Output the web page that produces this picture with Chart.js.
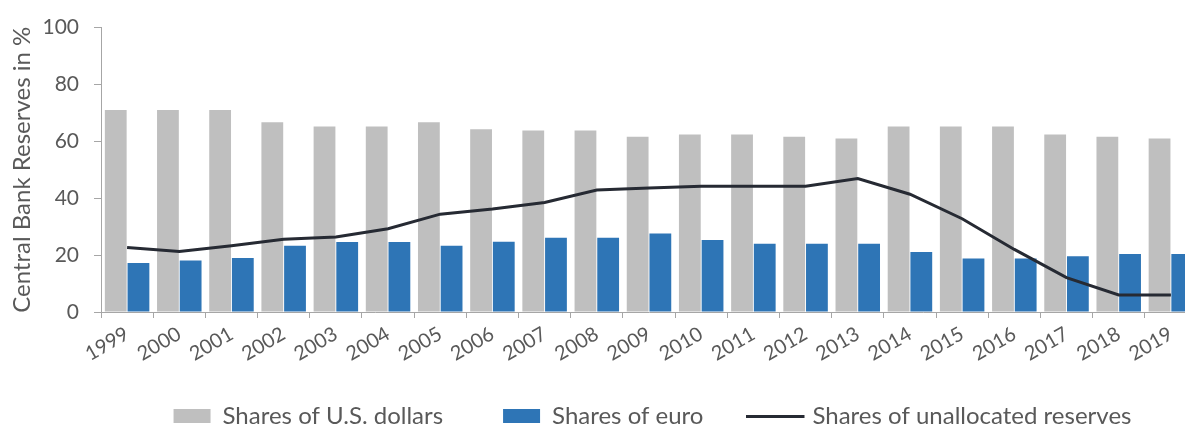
<!DOCTYPE html>
<html>
<head>
<meta charset="utf-8">
<script src="https://cdn.jsdelivr.net/npm/chart.js@4/dist/chart.umd.min.js"></script>
<style>
  html, body { margin: 0; padding: 0; background: #ffffff; overflow: hidden; }
  #wrap { width: 1185px; height: 428px; position: relative; overflow: hidden; }
  #chart { display: block; }
</style>
</head>
<body>
<div id="wrap"><canvas id="chart" width="1197" height="438" style="width:1197px;height:438px"></canvas></div>
<script>
const years = ['1999','2000','2001','2002','2003','2004','2005','2006','2007','2008','2009','2010','2011','2012','2013','2014','2015','2016','2017','2018','2019'];
const usdShares = [71.0, 71.0, 71.0, 66.7, 65.2, 65.2, 66.7, 64.3, 63.8, 63.8, 61.6, 62.4, 62.4, 61.6, 61.0, 65.2, 65.2, 65.2, 62.4, 61.6, 61.0];
const euroShares = [17.2, 18.1, 19.0, 23.3, 24.6, 24.6, 23.3, 24.7, 26.1, 26.1, 27.6, 25.3, 24.0, 24.0, 24.0, 21.1, 18.8, 18.8, 19.6, 20.4, 20.4];
const unallocatedShares = [22.7, 21.3, 23.3, 25.6, 26.4, 29.3, 34.4, 36.2, 38.5, 42.9, 43.6, 44.2, 44.2, 44.2, 46.9, 41.4, 32.8, 22.0, 12.1, 6.0, 6.0];
const yTickValues = [0, 20, 40, 60, 80, 100];
const seriesNames = ['Shares of U.S. dollars', 'Shares of euro', 'Shares of unallocated reserves'];

const FONT = 'Lato, "Liberation Sans", Arial, sans-serif';
const TEXT = '#595959';
const AXIS = '#a6a6a6';
const LEGEND_GAP = 60;      // horizontal spacing between legend items
const LEGEND_TRIM = 20;     // vertical space given back from the legend box

// wide line swatch for the legend (line sits left of the swatch centre)
const lineSwatch = document.createElement('canvas');
lineSwatch.width = 71; lineSwatch.height = 3;
(function(){ const c = lineSwatch.getContext('2d'); c.fillStyle = '#262a33'; c.fillRect(0, 0, 58, 3); })();

const legendTweak = {
  id: 'legendTweak',
  beforeUpdate(chart) {
    const lg = chart.legend;
    if (lg && !lg._tweaked) {
      const origFit = lg.fit.bind(lg);
      lg.fit = function () { origFit(); this.height -= LEGEND_TRIM; };
      lg._tweaked = true;
    }
  },
  afterLayout(chart) {
    const lg = chart.legend;
    if (lg) { lg.top -= LEGEND_TRIM; lg.left += 54; lg.right += 54; }
  }
};

new Chart(document.getElementById('chart'), {
  type: 'bar',
  data: {
    labels: years,
    datasets: [
      { type: 'bar', label: seriesNames[0], data: usdShares, backgroundColor: '#bfbfbf', borderWidth: 0, order: 1, pointStyle: 'rect', categoryPercentage: 0.87, barPercentage: 0.96 },
      { type: 'bar', label: seriesNames[1], data: euroShares, backgroundColor: '#2e75b6', borderWidth: 0, order: 2, pointStyle: 'rect', categoryPercentage: 0.87, barPercentage: 0.96 },
      { type: 'line', label: seriesNames[2], data: unallocatedShares, borderColor: '#262a33', backgroundColor: '#262a33', borderWidth: 3, pointRadius: 0, tension: 0, order: 0, pointStyle: lineSwatch }
    ]
  },
  options: {
    responsive: false,
    maintainAspectRatio: false,
    animation: false,
    devicePixelRatio: 1,
    layout: { padding: { top: 22, right: 0, left: 0, bottom: 0 } },
    plugins: {
      tooltip: { enabled: false },
      legend: {
        position: 'bottom',
        labels: {
          usePointStyle: true,
          pointStyleWidth: 37,
          boxHeight: 14,
          padding: LEGEND_GAP,
          color: TEXT,
          font: { family: FONT, size: 24 },
          sort: (a, b) => a.datasetIndex - b.datasetIndex
        }
      }
    },
    scales: {
      x: {
        offset: true,
        grid: { display: true, drawOnChartArea: false, offset: true, color: AXIS, tickLength: 6, tickColor: AXIS },
        border: { display: true, color: AXIS, width: 1 },
        ticks: { color: TEXT, font: { family: FONT, size: 20 }, minRotation: 30, maxRotation: 30, padding: 4, autoSkip: false },
        afterFit(scale) { scale.height = 52; }
      },
      y: {
        min: 0, max: 100,
        afterBuildTicks(scale) { scale.ticks = yTickValues.map(v => ({ value: v })); },
        grid: { display: true, drawOnChartArea: false, color: AXIS, tickLength: 7, tickColor: AXIS },
        border: { display: true, color: AXIS, width: 1 },
        ticks: { color: TEXT, font: { family: FONT, size: 21 }, padding: 15 },
        title: { display: true, text: 'Central Bank Reserves in %', color: TEXT, font: { family: FONT, size: 24 }, padding: { top: 8, bottom: 0 } },
        afterFit(scale) { scale.width = 101; }
      }
    }
  },
  plugins: [legendTweak]
});
</script>
</body>
</html>
